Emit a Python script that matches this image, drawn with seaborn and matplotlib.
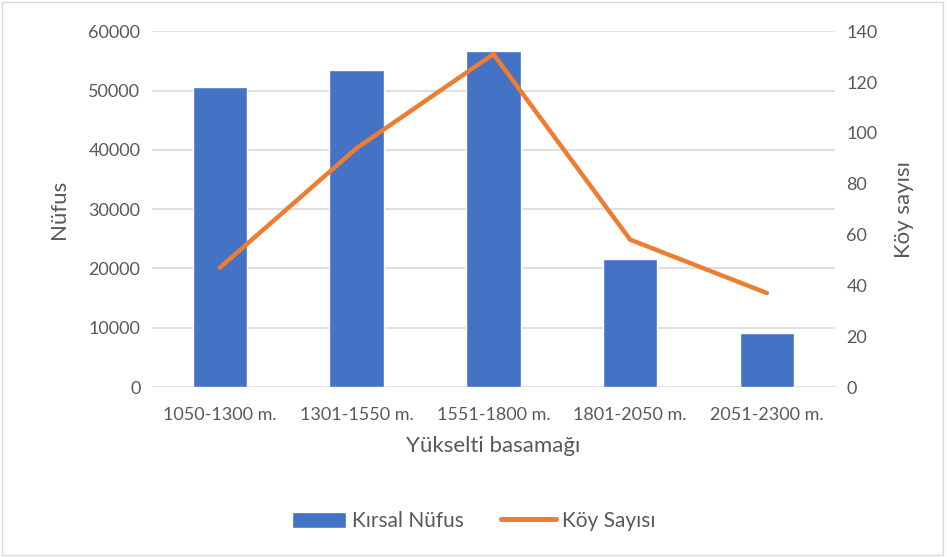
import matplotlib
matplotlib.use("Agg")
import matplotlib.pyplot as plt
import seaborn as sns
import pandas as pd
from matplotlib.patches import Patch, Rectangle
from matplotlib.lines import Line2D

categories = ["1050-1300 m.", "1301-1550 m.", "1551-1800 m.", "1801-2050 m.", "2051-2300 m."]
kirsal_nufus = [50600, 53500, 56700, 21600, 9100]
koy_sayisi = [47, 94, 131, 58, 37]

df = pd.DataFrame({"basamak": categories, "nufus": kirsal_nufus, "koy": koy_sayisi})

sns.set_style("white")
plt.rcParams["font.family"] = ["Lato", "DejaVu Sans"]
text_color = "#595959"
grid_color = "#D9D9D9"

fig = plt.figure(figsize=(9.47, 5.57), dpi=100)
ax = fig.add_axes([0.16, 0.305, 0.722, 0.639])

sns.barplot(data=df, x="basamak", y="nufus", color="#4472C4", width=0.4,
            saturation=1, ax=ax, zorder=2)
ax.set_ylim(0, 60000)
ax.set_yticks(range(0, 60001, 10000))
ax.yaxis.grid(True, color=grid_color, linewidth=1.2, zorder=0)
ax.set_axisbelow(True)
for s in ax.spines.values():
    s.set_visible(False)
ax.tick_params(axis="both", length=0, labelsize=13, colors=text_color, pad=8)
ax.tick_params(axis="x", pad=14)
ax.set_xlabel("Yükselti basamağı", fontsize=16, color=text_color, labelpad=10)
ax.set_ylabel("Nüfus", fontsize=16, color=text_color, labelpad=14)
ax.set_xlim(-0.5, 4.5)

ax2 = ax.twinx()
sns.lineplot(data=df, x="basamak", y="koy", color="#ED7D31", linewidth=3.2,
             ax=ax2, solid_capstyle="round", zorder=3)
ax2.set_ylim(0, 140)
ax2.set_yticks(range(0, 141, 20))
for s in ax2.spines.values():
    s.set_visible(False)
ax2.tick_params(axis="y", length=0, labelsize=13, colors=text_color, pad=8)
ax2.set_ylabel("Köy sayısı", fontsize=16, color=text_color, labelpad=12)
ax2.set_xlim(-0.5, 4.5)

handles = [Patch(facecolor="#4472C4", label="Kırsal Nüfus"),
           Line2D([0], [0], color="#ED7D31", linewidth=3.6, solid_capstyle="round", label="Köy Sayısı")]
leg = fig.legend(handles=handles, loc="center", bbox_to_anchor=(0.5, 0.065), ncol=2,
                 frameon=False, fontsize=15, handlelength=2.6, handleheight=0.8,
                 columnspacing=1.8, handletextpad=0.3)
for t in leg.get_texts():
    t.set_color(text_color)

fig.patches.append(Rectangle((0.002, 0.003), 0.994, 0.994, transform=fig.transFigure,
                             fill=False, edgecolor="#D9D9D9", linewidth=1))

fig.savefig("out.png", dpi=100)
